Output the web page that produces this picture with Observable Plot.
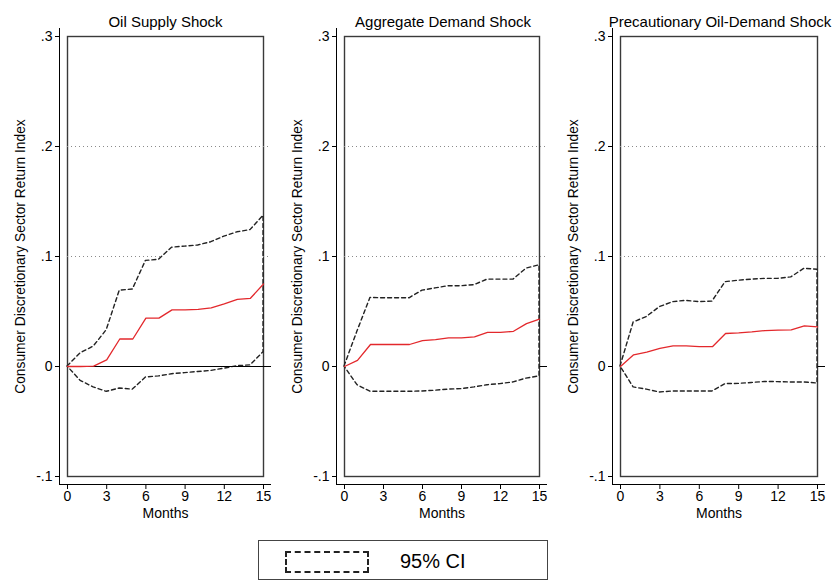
<!DOCTYPE html>
<html>
<head>
<meta charset="utf-8">
<script src="https://cdn.jsdelivr.net/npm/d3@7"></script>
<script src="https://cdn.jsdelivr.net/npm/@observablehq/plot@0.6"></script>
<style>
  html, body { margin: 0; padding: 0; background: #fff; }
  #root { position: relative; width: 835px; height: 582px; overflow: hidden; background: #fff;
          font-family: "Liberation Sans", Arial, Helvetica, sans-serif; color: #000; }
  .panel { position: absolute; top: 0; }
  #legend { position: absolute; left: 258px; top: 540px; width: 290px; height: 40px;
            border: 1px solid #444; box-sizing: border-box; }
  #legend .swatch { position: absolute; left: 26px; top: 10px; width: 84px; height: 22px;
            border: 2px dashed #222; box-sizing: border-box; }
  #legend .lbl { position: absolute; left: 141px; top: 8px; font-size: 20px; line-height: 24px; }
</style>
</head>
<body>
<div id="root"></div>
<script>
// ---- data ----
const months = [0, 1, 2, 3, 4, 5, 6, 7, 8, 9, 10, 11, 12, 13, 14, 15];

const panelTitles = ["Oil Supply Shock", "Aggregate Demand Shock", "Precautionary Oil-Demand Shock"];

// Oil supply shock
const oilMean  = [0, 0, 0.0003, 0.006, 0.025, 0.025, 0.044, 0.044, 0.0515, 0.0515, 0.052, 0.0533, 0.057, 0.061, 0.062, 0.075];
const oilUpper = [0, 0.012, 0.018, 0.033, 0.069, 0.070, 0.096, 0.097, 0.108, 0.109, 0.110, 0.113, 0.118, 0.122, 0.124, 0.137];
const oilLower = [0, -0.013, -0.019, -0.023, -0.020, -0.021, -0.010, -0.009, -0.007, -0.006, -0.005, -0.004, -0.002, 0.0003, 0.001, 0.013];

// Aggregate demand shock
const aggMean  = [0, 0.0055, 0.020, 0.020, 0.020, 0.020, 0.0236, 0.0245, 0.026, 0.026, 0.027, 0.031, 0.031, 0.032, 0.039, 0.043];
const aggUpper = [0, 0.032, 0.0624, 0.062, 0.062, 0.062, 0.069, 0.071, 0.073, 0.073, 0.074, 0.079, 0.079, 0.079, 0.089, 0.092];
const aggLower = [0, -0.017, -0.023, -0.023, -0.023, -0.023, -0.0227, -0.022, -0.021, -0.0206, -0.019, -0.017, -0.016, -0.0145, -0.011, -0.009];

// Precautionary oil-demand shock
const preMean  = [0, 0.0106, 0.013, 0.0164, 0.0188, 0.0188, 0.018, 0.018, 0.030, 0.0306, 0.0315, 0.0327, 0.033, 0.0333, 0.037, 0.036];
const preUpper = [0, 0.040, 0.045, 0.054, 0.0585, 0.0597, 0.0585, 0.059, 0.0767, 0.078, 0.079, 0.0797, 0.0797, 0.081, 0.0888, 0.088];
const preLower = [0, -0.019, -0.021, -0.0236, -0.0227, -0.0227, -0.0227, -0.0227, -0.016, -0.0158, -0.015, -0.014, -0.0142, -0.0145, -0.0145, -0.0155];

const xTicks = [0, 3, 6, 9, 12, 15];
const xTickLabels = ["0", "3", "6", "9", "12", "15"];
const yTicks = [-0.1, 0, 0.1, 0.2, 0.3];
const yTickLabels = ["-.1", "0", ".1", ".2", ".3"];
const gridValues = [0.1, 0.2];
const xDomain = [0, 15];
const yDomain = [-0.1, 0.3];
const yLabel = "Consumer Discretionary Sector Return Index";
const xLabel = "Months";
const legendLabel = "95% CI";

// ---- layout ----
const panels = [
  {title: panelTitles[0], mean: oilMean, upper: oilUpper, lower: oilLower, left: 0,   width: 277, mr: 6,  titleDx: 0, zeroOnTop: true},
  {title: panelTitles[1], mean: aggMean, upper: aggUpper, lower: aggLower, left: 277, width: 276, mr: 6,  titleDx: 1, zeroOnTop: false},
  {title: panelTitles[2], mean: preMean, upper: preUpper, lower: preLower, left: 553, width: 282, mr: 10, titleDx: 1, zeroOnTop: false}
];

const font = '"Liberation Sans", Arial, Helvetica, sans-serif';
const root = document.getElementById("root");

for (const p of panels) {
  const rows = months.map((m, i) => ({m, mean: p.mean[i], lo: p.lower[i], hi: p.upper[i]}));
  const zero = Plot.ruleY([0], {insetLeft: 8, stroke: "#000", strokeWidth: 1.1});
  const chart = Plot.plot({
    width: p.width,
    height: 530,
    marginLeft: 59,
    marginRight: p.mr,
    marginTop: 28,
    marginBottom: 46,
    style: {fontFamily: font, color: "#000", background: "transparent", overflow: "visible"},
    x: {domain: xDomain, inset: 8, axis: null},
    y: {domain: yDomain, insetTop: 8, insetBottom: 8, axis: null},
    marks: [
      Plot.frame({inset: 8, stroke: "#3a3a3a", strokeWidth: 1.4}),
      Plot.ruleY(gridValues, {insetLeft: 8, stroke: "#8a8a8a", strokeWidth: 1, strokeDasharray: "1,3"}),
      p.zeroOnTop ? null : zero,
      Plot.areaY(rows, {x: "m", y1: "lo", y2: "hi", fill: "#fff", stroke: "#222",
                        strokeWidth: 1.4, strokeDasharray: "4,3", curve: "linear"}),
      p.zeroOnTop ? zero : null,
      Plot.line(rows, {x: "m", y: "mean", stroke: "#e3282c", strokeWidth: 1.3}),
      // axis lines
      Plot.ruleX([xDomain[0]], {dx: -8, stroke: "#000", strokeWidth: 1}),
      Plot.ruleY([yDomain[0]], {dy: 8, stroke: "#000", strokeWidth: 1}),
      Plot.axisY(yTicks, {anchor: "left", tickSize: 4, tickPadding: 3, fontSize: 14,
                          tickFormat: d => yTickLabels[yTicks.indexOf(d)], label: null}),
      Plot.axisX(xTicks, {anchor: "bottom", tickSize: 5, tickPadding: 2, fontSize: 14,
                          tickFormat: d => xTickLabels[xTicks.indexOf(d)], label: null}),
      Plot.text([p.title], {frameAnchor: "top", dy: -12, dx: p.titleDx, fontSize: 15}),
      Plot.text([yLabel], {frameAnchor: "left", dx: -39, rotate: -90, textAnchor: "middle", fontSize: 13.8}),
      Plot.text([xLabel], {frameAnchor: "bottom", dy: 33, fontSize: 14})
    ]
  });
  chart.classList.add("panel");
  chart.style.left = p.left + "px";
  root.appendChild(chart);
}

// legend
const legend = document.createElement("div");
legend.id = "legend";
const sw = document.createElement("div");
sw.className = "swatch";
const lbl = document.createElement("div");
lbl.className = "lbl";
lbl.textContent = legendLabel;
legend.appendChild(sw);
legend.appendChild(lbl);
root.appendChild(legend);
</script>
</body>
</html>
